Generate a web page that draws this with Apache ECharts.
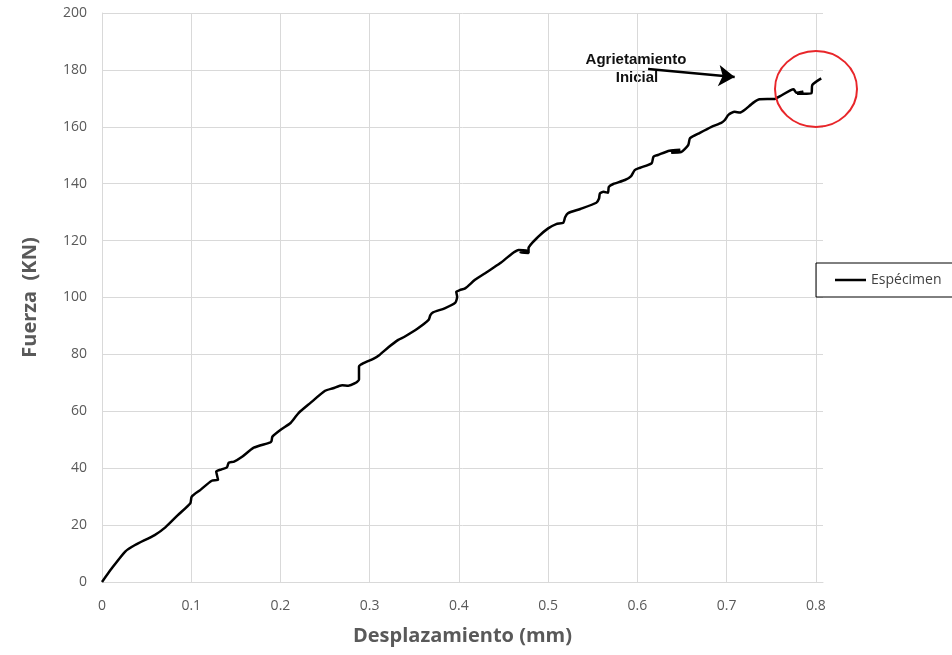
<!DOCTYPE html>
<html>
<head>
<meta charset="utf-8">
<script src="https://cdn.jsdelivr.net/npm/echarts@6/dist/echarts.min.js"></script>
<style>
  html, body { margin: 0; padding: 0; background: #fff; }
  #chart { width: 952px; height: 655px; }
</style>
</head>
<body>
<div id="chart"></div>
<script>
// desplazamiento (mm) vs fuerza (KN)
const disp = [
  0, 0.011, 0.026, 0.037, 0.059, 0.071, 0.085, 0.099, 0.1005, 0.110,
  0.123, 0.130, 0.128, 0.134, 0.140, 0.142, 0.148, 0.157, 0.170, 0.188,
  0.190, 0.191, 0.201, 0.211, 0.220, 0.233, 0.250, 0.259, 0.269, 0.276,
  0.283, 0.288, 0.288, 0.293, 0.304, 0.311, 0.321, 0.332, 0.339, 0.353,
  0.366, 0.368, 0.371, 0.384, 0.396, 0.398, 0.397, 0.401, 0.407, 0.418,
  0.431, 0.446, 0.459, 0.467, 0.477, 0.469, 0.478, 0.478, 0.489, 0.500,
  0.509, 0.517, 0.519, 0.522, 0.536, 0.554, 0.557, 0.558, 0.562, 0.567,
  0.568, 0.573, 0.586, 0.593, 0.597, 0.603, 0.616, 0.618, 0.623, 0.636,
  0.648, 0.638, 0.649, 0.657, 0.659, 0.670, 0.683, 0.694, 0.698, 0.702,
  0.709, 0.715, 0.720, 0.730, 0.737, 0.754, 0.760, 0.775, 0.778, 0.786,
  0.779, 0.786, 0.795, 0.796, 0.806
]
const fuerza = [
  0, 4.8, 10.7, 13.0, 16.5, 19.2, 23.5, 27.7, 30.0, 32.3,
  35.6, 35.9, 38.8, 39.6, 40.3, 41.9, 42.3, 44.0, 47.2, 49.0,
  49.6, 51.1, 53.7, 55.8, 59.3, 62.8, 67.2, 68.1, 69.2, 69.0,
  69.8, 71.2, 75.7, 76.9, 78.4, 79.8, 82.5, 85.1, 86.2, 88.9,
  92.1, 93.8, 94.8, 96.2, 98.2, 100.3, 102.0, 102.6, 103.2, 106.2,
  108.9, 112.0, 115.3, 116.7, 116.4, 115.8, 115.6, 117.3, 121.4, 124.3,
  125.8, 126.3, 128.2, 129.6, 131.1, 133.3, 134.8, 136.6, 137.2, 136.8,
  138.9, 139.9, 141.3, 142.7, 144.8, 145.6, 147.2, 149.5, 150.1, 151.6,
  151.9, 150.9, 151.1, 153.6, 156.0, 157.9, 160.0, 161.4, 162.4, 164.2,
  165.3, 165.0, 165.9, 168.5, 169.7, 169.8, 170.8, 173.2, 172.0, 172.3,
  171.6, 171.6, 171.8, 174.7, 177.0
]
const yTicks = [0, 200, 20]      // min, max, interval
const xTicks = [0, 0.808, 0.1]
// arrow "Agrietamiento Inicial": start / end in data units
const arrowFrom = [0.612, 180.3]
const arrowTo = [0.709, 177.5]

const labelGrey = '#595959'
const gridGrey = '#d9d9d9'

const chart = echarts.init(document.getElementById('chart'), null, { renderer: 'canvas' })

chart.setOption({
  backgroundColor: '#fff',
  animation: false,
  textStyle: { fontFamily: 'Open Sans' },
  grid: { left: 102, right: 129, top: 13, bottom: 73, containLabel: false },
  legend: {
    left: 816,
    top: 263,
    orient: 'vertical',
    padding: [9, 24, 9, 19],
    borderColor: '#000',
    borderWidth: 1,
    itemWidth: 31,
    itemHeight: 2.5,
    itemGap: 0,
    textStyle: { color: '#404040', fontSize: 14, fontFamily: 'Open Sans', lineHeight: 16 },
    data: [{ name: 'Espécimen', icon: 'rect' }],
  },
  xAxis: {
    type: 'value',
    min: xTicks[0],
    max: xTicks[1],
    interval: xTicks[2],
    name: 'Desplazamiento (mm)',
    nameLocation: 'middle',
    nameGap: 44,
    nameTextStyle: { color: labelGrey, fontSize: 20, fontWeight: 'bold' },
    axisLine: { lineStyle: { color: gridGrey, width: 1 } },
    axisTick: { show: false },
    axisLabel: {
      color: labelGrey, fontSize: 14, margin: 17, showMaxLabel: false,
      formatter: (v) => (v > 0.8001 ? '' : String(Math.round(v * 10) / 10)),
    },
    splitLine: { show: true, showMaxLine: false, lineStyle: { color: gridGrey } },
  },
  yAxis: {
    type: 'value',
    min: yTicks[0],
    max: yTicks[1],
    interval: yTicks[2],
    name: 'Fuerza  (KN)',
    nameLocation: 'middle',
    nameGap: 62,
    nameTextStyle: { color: labelGrey, fontSize: 20, fontWeight: 'bold' },
    axisLine: { show: true, lineStyle: { color: gridGrey } },
    axisTick: { show: false },
    axisLabel: { color: labelGrey, fontSize: 14, margin: 15 },
    splitLine: { lineStyle: { color: gridGrey } },
  },
  series: [
    {
      name: 'Espécimen',
      type: 'line',
      data: disp.map((d, i) => [d, fuerza[i]]),
      symbol: 'none',
      smooth: 0.2,
      lineStyle: { color: '#000', width: 2.5 },
      itemStyle: { color: '#000' },
      markLine: {
        silent: true,
        symbol: ['none', 'arrow'],
        symbolSize: 16,
        label: { show: false },
        lineStyle: { color: '#000', width: 2.5, type: 'solid' },
        data: [[{ coord: arrowFrom }, { coord: arrowTo }]],
      },
    },
  ],
  graphic: [
    {
      type: 'text',
      x: 636,
      y: 60,
      style: {
        text: 'Agrietamiento',
        fill: '#111',
        font: 'bold 15px "Liberation Sans"',
        align: 'center',
        verticalAlign: 'middle',
      },
    },
    {
      type: 'text',
      x: 637,
      y: 78,
      style: {
        text: 'Inicial',
        fill: '#111',
        font: 'bold 15px "Liberation Sans"',
        align: 'center',
        verticalAlign: 'middle',
      },
    },
    {
      type: 'ellipse',
      shape: { cx: 816, cy: 89, rx: 41, ry: 38 },
      style: { fill: 'none', stroke: '#e8262a', lineWidth: 2 },
      z: 10,
    },
  ],
})
</script>
</body>
</html>
